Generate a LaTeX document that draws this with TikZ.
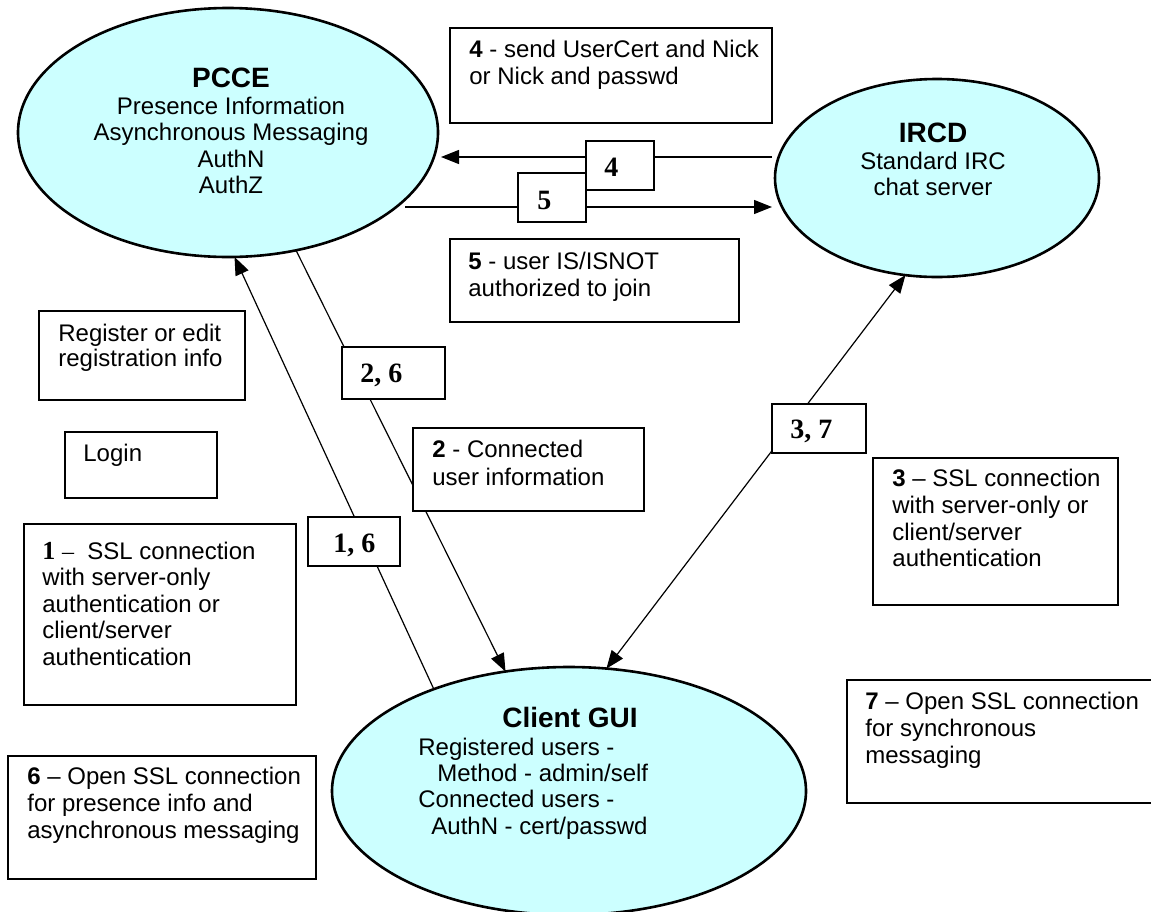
\documentclass[tikz,border=0pt]{standalone}
\usepackage{fontspec}
\setmainfont{Liberation Sans}
\newfontfamily\timesf{Liberation Serif}
\usetikzlibrary{arrows.meta,shapes.geometric}
\definecolor{ellfill}{HTML}{CCFFFF}
\begin{document}
\begin{tikzpicture}[x=0.5pt,y=-0.5pt,
  ell/.style={ellipse, draw=black, line width=1.3pt, fill=ellfill, inner sep=0pt, outer sep=0pt},
  txtbox/.style={draw=black, line width=0.75pt, fill=white, inner sep=0pt, outer sep=0pt, anchor=north west},
  lblbox/.style={draw=black, line width=0.75pt, fill=white, inner sep=0pt, outer sep=0pt, anchor=north west},
  btext/.style={inner sep=0pt, anchor=north west, align=left, font=\fontsize{12}{13.4}\selectfont},
  ltext/.style={inner sep=0pt, anchor=base west, font=\timesf\bfseries\fontsize{14}{16}\selectfont},
  etext/.style={inner sep=0pt, align=center, font=\fontsize{12}{13.3}\selectfont},
  conn/.style={draw=black, line width=0.6pt, -{Triangle[length=9pt,width=7pt]}},
  conntwo/.style={draw=black, line width=0.6pt, {Triangle[length=9pt,width=7pt]}-{Triangle[length=9pt,width=7pt]}}
]
\useasboundingbox (0,0) rectangle (1151,911);
\fill[white] (0,0) rectangle (1151,911);
\newcommand{\st}{\rule{0pt}{9pt}}
\newcommand{\tst}{\rule{0pt}{10.5pt}}

% ellipses
\node[ell, minimum width=210pt, minimum height=124.5pt] (pcce) at (228,132.5) {};
\node[ell, minimum width=162pt, minimum height=99pt] (ircd) at (937,178) {};
\node[ell, minimum width=237pt, minimum height=124pt] (cg) at (569,791) {};

% ellipse texts
\node[etext, anchor=north] (pcceT) at (231,66) {\tst{\bfseries\fontsize{14}{16}\selectfont PCCE}\\Presence Information\\Asynchronous Messaging\\AuthN\\AuthZ};
\node[etext, anchor=north] (ircdT) at (933,121) {\tst{\bfseries\fontsize{14}{16}\selectfont IRCD}\\Standard IRC\\chat server};
\node[inner sep=0pt, anchor=base, font=\bfseries\fontsize{14}{16}\selectfont] (cgT) at (570,727) {Client GUI};
\node[btext, font=\fontsize{12}{13.1}\selectfont] (cgB) at (418,737) {\st Registered users -\\\hspace*{9.5pt}Method - admin/self\\Connected users -\\\hspace*{6.5pt}AuthN - cert/passwd};

% connectors
\coordinate (y4) at (0,157);
\coordinate (y5) at (0,207);
\draw[conn, shorten >=1.5pt] ([xshift=-1.5pt]ircd.west |- y4) -- (pcce.east |- y4);
\draw[conn, shorten >=1.5pt] ([xshift=-16.5pt]pcce.east |- y5) -- (ircd.west |- y5);
\draw[conn] (pcce.-60.7) -- (cg.118.7);
\draw[conn] (cg.143.3) -- (pcce.-87.3);
\draw[conntwo] (cg.73.5) -- (ircd.-108.8);

% description boxes
\node[txtbox, minimum width=161pt, minimum height=47.5pt] (b4) at (450,28) {};
\node[txtbox, minimum width=144.5pt, minimum height=41.5pt] (b5) at (450,239) {};
\node[txtbox, minimum width=103pt, minimum height=44.5pt] (reg) at (39,311) {};
\node[txtbox, minimum width=76pt, minimum height=33pt] (login) at (65,432) {};
\node[txtbox, minimum width=115.5pt, minimum height=41.5pt] (b2) at (413,428) {};
\node[txtbox, minimum width=122.5pt, minimum height=73.5pt] (b3) at (873,458) {};
\node[txtbox, minimum width=136pt, minimum height=90.5pt] (b1) at (24,524) {};
\node[txtbox, minimum width=154pt, minimum height=61.5pt] (b6) at (8,756) {};
\node[txtbox, minimum width=156pt, minimum height=61.5pt] (b7) at (847,680) {};

% label boxes
\node[lblbox, minimum width=34pt, minimum height=24.5pt] (l5) at (518,173) {};
\node[lblbox, minimum width=34pt, minimum height=24.5pt] (l4) at (586,141) {};
\node[lblbox, minimum width=51.5pt, minimum height=26pt] (l26) at (342,347) {};
\node[lblbox, minimum width=46pt, minimum height=24.5pt] (l16) at (308,517) {};
\node[lblbox, minimum width=47pt, minimum height=24.5pt] (l37) at (772,404) {};

% label texts
\node[ltext] (l4t) at ([xshift=9pt,yshift=-17.5pt]l4.north west) {4};
\node[ltext] (l5t) at ([xshift=9.5pt,yshift=-18pt]l5.north west) {5};
\node[ltext] (l26t) at ([xshift=9pt,yshift=-17.5pt]l26.north west) {2, 6};
\node[ltext] (l16t) at ([xshift=12.5pt,yshift=-17.5pt]l16.north west) {1, 6};
\node[ltext] (l37t) at ([xshift=9pt,yshift=-17pt]l37.north west) {3, 7};

% box texts
\node[btext] (b4t) at ([xshift=9.5pt,yshift=-5.5pt]b4.north west) {\st\textbf{4} - send UserCert and Nick\\or Nick and passwd};
\node[btext] (b5t) at ([xshift=9pt,yshift=-6pt]b5.north west) {\st\textbf{5} - user IS/ISNOT\\authorized to join};
\node[btext, font=\fontsize{12}{12.6}\selectfont] (regt) at ([xshift=9.5pt,yshift=-6pt]reg.north west) {\st Register or edit\\registration info};
\node[btext] (logint) at ([xshift=9pt,yshift=-5.5pt]login.north west) {\st Login};
\node[btext, font=\fontsize{12}{13.8}\selectfont] (b2t) at ([xshift=9.5pt,yshift=-5.5pt]b2.north west) {\st\textbf{2} - Connected\\user information};
\node[btext] (b3t) at ([xshift=9.5pt,yshift=-5pt]b3.north west) {\st\textbf{3} – SSL connection\\with server-only or\\client/server\\authentication};
\node[btext, font=\fontsize{12}{13.2}\selectfont] (b1t) at ([xshift=9pt,yshift=-8.5pt]b1.north west) {\st{\timesf\bfseries\fontsize{13}{15}\selectfont 1} {\timesf –}\ \ SSL connection\\with server-only\\authentication or\\client/server\\authentication};
\node[btext] (b6t) at ([xshift=9.5pt,yshift=-5pt]b6.north west) {\st\textbf{6} – Open SSL connection\\for presence info and\\asynchronous messaging};
\node[btext] (b7t) at ([xshift=9pt,yshift=-5.5pt]b7.north west) {\st\textbf{7} – Open SSL connection\\for synchronous\\messaging};
\end{tikzpicture}
\end{document}
